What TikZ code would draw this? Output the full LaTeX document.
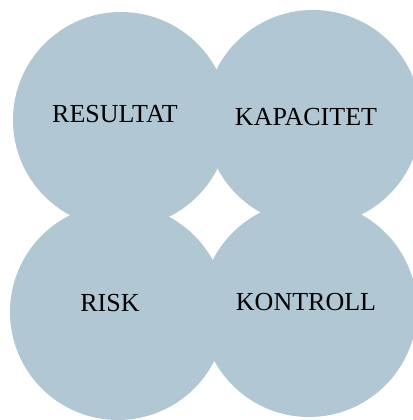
\documentclass[tikz,border=0pt]{standalone}
\usepackage{fontspec}
\setmainfont{Liberation Serif}
\usetikzlibrary{positioning}
\definecolor{petalblue}{RGB}{177,199,211}

\begin{document}
\begin{tikzpicture}[
        x=1pt, y=-1pt,
        petal/.style={circle, fill=petalblue, draw=none, minimum size=216pt, inner sep=0pt},
        tag/.style={font=\fontsize{26}{26}\selectfont, inner sep=0pt, text=black}
      ]

      \useasboundingbox (0,0) rectangle (412,420);

      \node (Res) [petal] at (121,120) {};
      \node (Kap) [petal] at (313,118) {};
      \node (Risk) [petal] at (118,312) {};
      \node (Kon) [petal] at (309,309) {};

      \node (ResT) [tag] at (115,114) {RESULTAT};
      \node (KapT) [tag] at (306,117) {KAPACITET};
      \node (RiskT) [tag] at (110,303) {RISK};
      \node (KonT) [tag] at (306,302) {KONTROLL};

    \end{tikzpicture}
\end{document}
